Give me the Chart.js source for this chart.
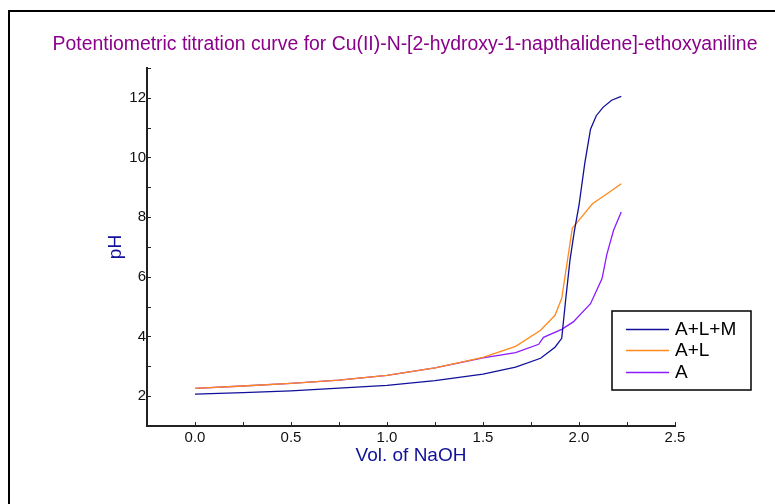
<!DOCTYPE html>
<html>
<head>
<meta charset="utf-8">
<script src="https://cdn.jsdelivr.net/npm/chart.js@4.4.1/dist/chart.umd.min.js"></script>
<style>
  html, body { margin: 0; padding: 0; background: #fff; overflow: hidden; }
  #wrap { position: relative; width: 775px; height: 504px; }
</style>
</head>
<body>
<div id="wrap"><canvas id="titrationChart"></canvas></div>
<script>
// volumes (x) and pH readings (y) for each curve
const volALM = [0, 0.25, 0.5, 0.75, 1.0, 1.25, 1.5, 1.67, 1.8, 1.875, 1.91, 1.93, 1.953, 1.975, 2.0, 2.03, 2.06, 2.09, 2.125, 2.17, 2.22];
const phALM  = [2.07, 2.12, 2.18, 2.27, 2.36, 2.52, 2.74, 2.97, 3.27, 3.64, 3.94, 5.2, 6.56, 7.5, 8.4, 9.8, 10.95, 11.4, 11.68, 11.92, 12.05];

const volAL = [0, 0.25, 0.5, 0.75, 1.0, 1.25, 1.5, 1.67, 1.8, 1.875, 1.91, 1.94, 1.965, 2.0, 2.07, 2.15, 2.22];
const phAL  = [2.26, 2.34, 2.43, 2.54, 2.7, 2.95, 3.3, 3.67, 4.21, 4.71, 5.28, 6.56, 7.63, 7.9, 8.45, 8.8, 9.12];

const volA = [0, 0.25, 0.5, 0.75, 1.0, 1.25, 1.5, 1.67, 1.79, 1.815, 1.91, 1.97, 2.06, 2.12, 2.145, 2.18, 2.22];
const phA  = [2.26, 2.34, 2.43, 2.54, 2.7, 2.95, 3.28, 3.46, 3.74, 3.97, 4.24, 4.49, 5.1, 5.94, 6.75, 7.56, 8.17];

const seriesLabels = ['A+L+M', 'A+L', 'A'];
const seriesColors = ['#10109a', '#ff8a1c', '#8a1cff'];

function toPoints(xs, ys) {
    return xs.map(function(x, i) { return {x: x, y: ys[i]}; });
}

// frame, inside tick marks and boxed legend
const decorPlugin = {
    id: 'decor',
    afterDraw: function(chart) {
        const ctx = chart.ctx;
        const xs = chart.scales.x;
        const ys = chart.scales.y;
        ctx.save();

        // outer frame (left and top edges)
        ctx.strokeStyle = '#000';
        ctx.lineWidth = 2;
        ctx.beginPath();
        ctx.moveTo(9, 504);
        ctx.lineTo(9, 11);
        ctx.lineTo(775, 11);
        ctx.stroke();

        // tick marks pointing into the plot
        ctx.strokeStyle = '#222';
        ctx.lineWidth = 1;
        ctx.beginPath();
        xs.ticks.forEach(function(t) {
            const px = Math.round(xs.getPixelForValue(t.value)) + 0.5;
            ctx.moveTo(px, xs.top);
            ctx.lineTo(px, xs.top - 4);
        });
        ys.ticks.forEach(function(t) {
            const py = Math.round(ys.getPixelForValue(t.value)) + 0.5;
            ctx.moveTo(ys.right, py);
            ctx.lineTo(ys.right + 4, py);
        });
        ctx.stroke();

        // legend box
        const bx = 612, by = 311, bw = 139, bh = 79;
        ctx.lineWidth = 1.5;
        ctx.strokeStyle = '#000';
        ctx.strokeRect(bx, by, bw, bh);
        ctx.font = '19px "Liberation Sans", Arial, sans-serif';
        ctx.textBaseline = 'middle';
        ctx.fillStyle = '#000';
        const rows = [329, 350, 372];
        chart.data.datasets.forEach(function(ds, i) {
            ctx.strokeStyle = ds.borderColor;
            ctx.lineWidth = 1.3;
            ctx.beginPath();
            ctx.moveTo(626, rows[i] + 0.5);
            ctx.lineTo(669, rows[i] + 0.5);
            ctx.stroke();
            ctx.fillText(ds.label, 675, rows[i] + 1);
        });
        ctx.restore();
    }
};

const ctx = document.getElementById('titrationChart').getContext('2d');
const titrationChart = new Chart(ctx, {
    type: 'line',
    data: {
        datasets: [
            {label: seriesLabels[0], data: toPoints(volALM, phALM), borderColor: seriesColors[0]},
            {label: seriesLabels[1], data: toPoints(volAL, phAL), borderColor: seriesColors[1]},
            {label: seriesLabels[2], data: toPoints(volA, phA), borderColor: seriesColors[2]}
        ].map(function(ds) {
            ds.borderWidth = 1.3;
            ds.pointRadius = 0;
            ds.tension = 0;
            ds.fill = false;
            return ds;
        })
    },
    options: {
        responsive: true,
        maintainAspectRatio: false,
        animation: false,
        layout: {padding: {left: 35, right: 0, top: 0, bottom: 0}},
        plugins: {
            legend: {display: false},
            tooltip: {enabled: false},
            title: {
                display: true,
                text: 'Potentiometric titration curve for Cu(II)-N-[2-hydroxy-1-napthalidene]-ethoxyaniline',
                color: '#8b008b',
                font: {family: '"Liberation Sans", Arial, sans-serif', size: 19.4, weight: 'normal'},
                padding: {top: 33.4, bottom: 11.3}
            }
        },
        scales: {
            x: {
                type: 'linear',
                min: -0.25,
                max: 2.5,
                grid: {display: false, drawTicks: false, tickLength: 0},
                border: {display: true, color: '#222', width: 2},
                ticks: {
                    stepSize: 0.25,
                    padding: 3,
                    color: '#111',
                    maxRotation: 0,
                    autoSkip: false,
                    font: {family: '"Liberation Sans", Arial, sans-serif', size: 15},
                    callback: function(v) {
                        return Math.abs(v * 2 - Math.round(v * 2)) < 1e-6 ? v.toFixed(1) : '';
                    }
                },
                title: {
                    display: true,
                    text: 'Vol. of NaOH',
                    color: '#10109a',
                    font: {family: '"Liberation Sans", Arial, sans-serif', size: 19},
                    padding: {top: 0, bottom: 36.6}
                },
                afterFit: function(scale) { scale.height = 78; }
            },
            y: {
                min: 1,
                max: 13,
                grid: {display: false, drawTicks: false, tickLength: 0},
                border: {display: true, color: '#222', width: 2},
                ticks: {
                    stepSize: 1,
                    padding: 1,
                    color: '#111',
                    autoSkip: false,
                    font: {family: '"Liberation Sans", Arial, sans-serif', size: 15},
                    callback: function(v) { return v % 2 === 0 ? String(v) : ''; }
                },
                title: {
                    display: true,
                    text: 'pH',
                    color: '#10109a',
                    font: {family: '"Liberation Sans", Arial, sans-serif', size: 19},
                    padding: {top: 69.6, bottom: 0}
                },
                afterFit: function(scale) { scale.width = 112; }
            },
            // empty box that keeps the plot clear of the right margin
            yRight: {
                position: 'right',
                display: true,
                grid: {display: false, drawTicks: false},
                border: {display: false},
                ticks: {display: false},
                afterFit: function(scale) { scale.width = 100; }
            }
        }
    },
    plugins: [decorPlugin]
});
</script>
</body>
</html>
